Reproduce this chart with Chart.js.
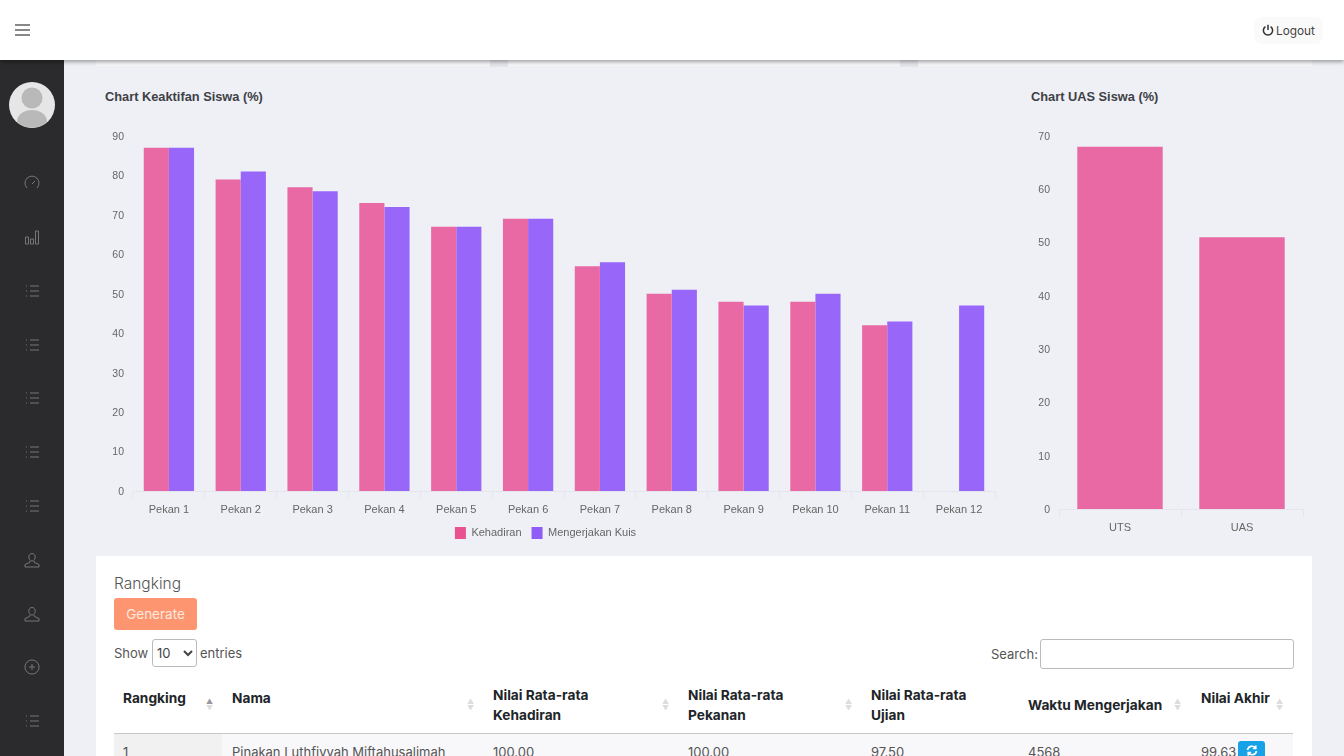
<!DOCTYPE html>
<html>
<head>
<meta charset="utf-8">
<title>Chart Siswa</title>
<script src="https://cdn.jsdelivr.net/npm/chart.js@4"></script>
<style>
html, body { margin: 0; height: 100%; overflow: hidden; background: #eef0f5; font-family: Inter, sans-serif; color: #555; }
.abs { position: absolute; white-space: nowrap; }
#header { position: absolute; left: 0; top: 0; width: 1344px; height: 60px; background: #fff; box-shadow: 0 2px 4px rgba(0,0,0,.35); z-index: 3; }
#sidebar { position: absolute; left: 0; top: 60px; width: 64px; height: 696px; background: #2b2b2d; z-index: 2; }
#sidebar svg { position: absolute; left: 24px; width: 16px; height: 16px; fill: none; stroke: #777; stroke-width: 1; }
.strip { position: absolute; top: 60px; height: 6px; background: #f8f8fb; }
.gap { position: absolute; top: 60px; height: 7px; background: #e5e6ea; }
.judul { font: bold 12.8px "Liberation Sans", sans-serif; color: #3f3f46; }
canvas { position: absolute; }
#card { position: absolute; left: 96px; top: 556px; width: 1216px; height: 200px; background: #fff; }
.th { font-weight: 700; font-size: 13.7px; line-height: 20px; color: #212529; }
.td { font-size: 13px; color: #555; }
.sort { position: absolute; width: 6px; color: #ddd; font-size: 7px; line-height: 7px; text-align: center; white-space: normal; }
</style>
</head>
<body>
<div id="header">
  <svg class="abs" style="left:15px;top:23px" width="15" height="14" stroke="#888" stroke-width="2"><path d="M0 2H15M0 7H15M0 12H15"/></svg>
  <div class="abs" style="left:1254px;top:17px;width:69px;height:27px;background:#fafafa;border-radius:8px"></div>
  <svg class="abs" style="left:1262px;top:24px" width="12" height="12" fill="none" stroke="#333" stroke-width="1.5"><path d="M3.4 2.6a4.6 4.6 0 1 0 5.2 0M6 .8V6"/></svg>
  <div class="abs" style="left:1276px;top:23px;font-size:11.8px;line-height:16px;color:#444">Logout</div>
</div>

<div id="sidebar">
  <svg class="abs" style="left:9px;top:22px;width:46px;height:46px;stroke:none" viewBox="0 0 46 46">
    <circle cx="23" cy="23" r="23" fill="#e6e6e6"/>
    <circle cx="23" cy="16" r="10.5" fill="#b9b9b9"/>
    <path d="M8 40c0-16 30-16 30 0a23 23 0 0 1-30 0z" fill="#b9b9b9"/>
  </svg>
</div>

<div class="strip" style="left:96px;width:394px"></div>
<div class="strip" style="left:508px;width:392px"></div>
<div class="strip" style="left:918px;width:394px"></div>
<div class="gap" style="left:490px;width:18px"></div>
<div class="gap" style="left:900px;width:18px"></div>

<div class="abs judul" style="left:105px;top:89px">Chart Keaktifan Siswa (%)</div>
<div class="abs judul" style="left:1031px;top:89px">Chart UAS Siswa (%)</div>

<canvas id="chartKeaktifan" width="907" height="429" style="left:96px;top:120px"></canvas>
<canvas id="chartUas" width="290" height="412" style="left:1022px;top:120px"></canvas>

<div id="card"></div>
<div class="abs" style="left:114px;top:574px;font-size:15.5px;line-height:20px;font-weight:300;color:#555">Rangking</div>
<div class="abs" style="left:114px;top:598px;width:83px;height:32px;background:#fd9570;border-radius:3px;color:#ffe9df;font-size:13.5px;line-height:32px;text-align:center">Generate</div>
<div class="abs td" style="left:114px;top:645px">Show</div>
<select class="abs" style="left:152px;top:639px;width:45px;height:28px;font:13px Inter;color:#444;background:#fff;border:1px solid #bbb;border-radius:3px"><option>10</option></select>
<div class="abs td" style="left:200px;top:645px">entries</div>
<div class="abs td" style="left:991px;top:646px">Search:</div>
<div class="abs" style="left:1040px;top:639px;width:252px;height:28px;background:#fff;border:1px solid #bbb;border-radius:3px"></div>

<div class="abs th" style="left:123px;top:688px">Rangking</div>
<div class="abs th" style="left:232px;top:688px">Nama</div>
<div class="abs th" style="left:493px;top:685px">Nilai Rata-rata<br>Kehadiran</div>
<div class="abs th" style="left:688px;top:685px">Nilai Rata-rata<br>Pekanan</div>
<div class="abs th" style="left:871px;top:685px">Nilai Rata-rata<br>Ujian</div>
<div class="abs th" style="left:1028px;top:695px">Waktu Mengerjakan</div>
<div class="abs th" style="left:1201px;top:688px">Nilai Akhir</div>
<div class="sort" style="left:206px;top:698px"><span style="color:#999">▲</span><br>▼</div>
<div class="sort" style="left:467px;top:698px">▲<br>▼</div>
<div class="sort" style="left:662px;top:698px">▲<br>▼</div>
<div class="sort" style="left:845px;top:698px">▲<br>▼</div>
<div class="sort" style="left:1174px;top:698px">▲<br>▼</div>
<div class="sort" style="left:1276px;top:698px">▲<br>▼</div>

<div class="abs" style="left:114px;top:733px;width:1179px;height:23px;background:#f8f8fa;border-top:1px solid #c8c8c8"></div>
<div class="abs" style="left:114px;top:734px;width:108px;height:22px;background:#f1f1f1"></div>
<div class="abs td" style="left:123px;top:744px">1</div>
<div class="abs td" style="left:232px;top:744px">Pinakan Luthfiyyah Miftahusalimah</div>
<div class="abs td" style="left:493px;top:744px">100.00</div>
<div class="abs td" style="left:688px;top:744px">100.00</div>
<div class="abs td" style="left:871px;top:744px">97.50</div>
<div class="abs td" style="left:1028px;top:744px">4568</div>
<div class="abs td" style="left:1201px;top:744px">99.63</div>
<div class="abs" style="left:1238px;top:741px;width:27px;height:20px;background:#17a2e8;border-radius:3px"></div>
<svg class="abs" style="left:1246px;top:745px" width="12" height="11" fill="none" stroke="#fff" stroke-width="1.6"><path d="M1.5 5a4.5 4.5 0 0 1 8-2M10.5 6a4.5 4.5 0 0 1-8 2M9.8 .5v3h-3M2.2 10.5v-3h3"/></svg>

<script>
const kategoriPekan = ["Pekan 1", "Pekan 2", "Pekan 3", "Pekan 4", "Pekan 5", "Pekan 6", "Pekan 7", "Pekan 8", "Pekan 9", "Pekan 10", "Pekan 11", "Pekan 12"];
const kehadiran = [87, 79, 77, 73, 67, 69, 57, 50, 48, 48, 42, 0];
const kuis = [87, 81, 76, 72, 67, 69, 58, 51, 47, 50, 43, 47];
const kategoriUjian = ["UTS", "UAS"];
const nilaiUjian = [68, 51];

const warnaPink = "rgb(233, 105, 165)";
const warnaUngu = "rgb(153, 102, 250)";
const warnaGaris = "rgba(0, 0, 0, 0.04)";

// icon sidebar
const ikonGaris = "M6 3H15M6 8H15M6 13H15M2 3H3M2 8H3M2 13H3";
const ikonUser = "M8 1.5c2.2 0 3.2 1.8 3.2 3.6s-1.2 4-3.2 4-3.2-2.2-3.2-4 1-3.6 3.2-3.6zM5.8 9l-.3 1.5L1 12.5V15h14v-2.5l-4.5-2L10.2 9";
const ikonSidebar = [
  [123, "M3 13a7 7 0 1 1 10 0M8 9l3-3"],
  [177, "M1.5 8h3v7h-3zM6.5 10h3v5h-3zM11.5 2h3v13h-3z"],
  [231, ikonGaris], [285, ikonGaris], [338, ikonGaris], [392, ikonGaris], [446, ikonGaris],
  [500, ikonUser], [554, ikonUser],
  [607, "M8 1a7 7 0 1 0 .01 0zM8 5v6M5 8h6"],
  [661, ikonGaris]
];
const sidebar = document.getElementById("sidebar");
ikonSidebar.forEach(function (ikon) {
  sidebar.insertAdjacentHTML("beforeend",
    '<svg style="top:' + (ikon[0] - 8) + 'px" viewBox="0 0 16 16"><path d="' + ikon[1] + '"/></svg>');
});

Chart.defaults.font.family = '"Liberation Sans", sans-serif';
Chart.defaults.font.size = 11;
Chart.defaults.color = "#666";

function skalaX(tinggi) {
  return {
    grid: { color: warnaGaris, drawOnChartArea: false, tickLength: 8 },
    border: { color: warnaGaris },
    ticks: { padding: 4, maxRotation: 0, autoSkip: false },
    afterFit: function (s) { s.height = tinggi; }
  };
}

function skalaY(maks) {
  return {
    min: 0,
    max: maks,
    grid: { display: false, drawTicks: false },
    border: { display: false },
    ticks: { stepSize: 10, padding: 9, labelOffset: 1, font: { size: 10.5 } },
    afterFit: function (s) { s.width = 37; }
  };
}

new Chart(document.getElementById("chartKeaktifan"), {
  type: "bar",
  data: {
    labels: kategoriPekan,
    datasets: [
      { label: "Kehadiran", data: kehadiran, backgroundColor: warnaPink, categoryPercentage: 0.7, barPercentage: 1 },
      { label: "Mengerjakan Kuis", data: kuis, backgroundColor: warnaUngu, categoryPercentage: 0.7, barPercentage: 1 }
    ]
  },
  options: {
    responsive: false,
    animation: false,
    layout: { padding: { top: 16, right: 8 } },
    scales: { x: skalaX(26), y: skalaY(90) },
    plugins: {
      tooltip: { enabled: false },
      legend: {
        position: "bottom",
        labels: {
          boxWidth: 11,
          boxHeight: 12,
          padding: 10,
          generateLabels: function () {
            return [
              { text: "Kehadiran", fillStyle: "#e8528f", strokeStyle: "#e8528f", fontColor: "#666", lineWidth: 0, datasetIndex: 0 },
              { text: "Mengerjakan Kuis", fillStyle: "#8f5cf5", strokeStyle: "#8f5cf5", fontColor: "#666", lineWidth: 0, datasetIndex: 1 }
            ];
          }
        }
      }
    }
  }
});

new Chart(document.getElementById("chartUas"), {
  type: "bar",
  data: {
    labels: kategoriUjian,
    datasets: [
      { label: "Nilai", data: nilaiUjian, backgroundColor: warnaPink, categoryPercentage: 0.7, barPercentage: 1 }
    ]
  },
  options: {
    responsive: false,
    animation: false,
    layout: { padding: { top: 16, right: 9 } },
    scales: { x: skalaX(23), y: skalaY(70) },
    plugins: { tooltip: { enabled: false }, legend: { display: false } }
  }
});
</script>
</body>
</html>
